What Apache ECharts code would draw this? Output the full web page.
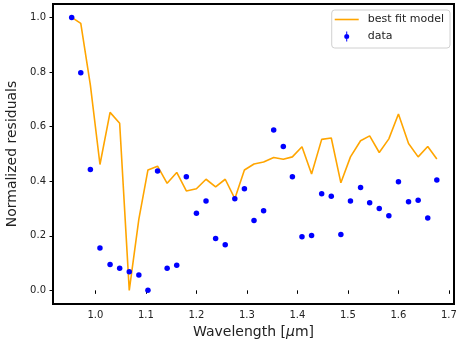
<!DOCTYPE html>
<html>
<head>
<meta charset="utf-8">
<script src="https://cdn.jsdelivr.net/npm/echarts@6/dist/echarts.min.js"></script>
<style>
  html, body { margin: 0; padding: 0; background: #fff; }
  #chart { width: 457px; height: 350px; }
</style>
</head>
<body>
<div id="chart"></div>
<script>
// wavelength grid (um)
var wavelengths = [
  0.953, 0.971, 0.990, 1.009, 1.029, 1.048, 1.067, 1.086, 1.104, 1.123,
  1.142, 1.161, 1.180, 1.200, 1.219, 1.238, 1.257, 1.276, 1.295, 1.314,
  1.333, 1.353, 1.372, 1.390, 1.409, 1.428, 1.448, 1.467, 1.486, 1.505,
  1.525, 1.543, 1.562, 1.581, 1.600, 1.620, 1.639, 1.658, 1.676
]
// measured points
var dataValues = [
  1.000, 0.797, 0.443, 0.155, 0.095, 0.081, 0.068, 0.056, 0.000, 0.437,
  0.081, 0.092, 0.416, 0.282, 0.327, 0.190, 0.167, 0.336, 0.372, 0.256,
  0.292, 0.587, 0.527, 0.416, 0.196, 0.201, 0.354, 0.345, 0.205, 0.327,
  0.377, 0.321, 0.300, 0.273, 0.398, 0.325, 0.330, 0.265, 0.404
]
// model curve
var modelValues = [
  1.000, 0.978, 0.752, 0.461, 0.652, 0.612, 0.000, 0.261, 0.441, 0.455,
  0.392, 0.432, 0.364, 0.372, 0.407, 0.379, 0.407, 0.336, 0.441, 0.463,
  0.470, 0.487, 0.480, 0.489, 0.526, 0.426, 0.553, 0.558, 0.394, 0.489,
  0.548, 0.566, 0.505, 0.555, 0.646, 0.538, 0.489, 0.527, 0.481
]
var xTicks = [1.0, 1.1, 1.2, 1.3, 1.4, 1.5, 1.6, 1.7]
var yTicks = [0.0, 0.2, 0.4, 0.6, 0.8, 1.0]

var font = 'DejaVu Sans'
var modelPts = wavelengths.map(function (w, i) { return [w, modelValues[i]] })
var dataPts = wavelengths.map(function (w, i) { return [w, dataValues[i]] })

var chart = echarts.init(document.getElementById('chart'), null, { renderer: 'canvas' })

var option = {
  animation: false,
  backgroundColor: '#fff',
  grid: {
    left: 53,
    right: 3,
    top: 4,
    bottom: 46,
    outerBoundsMode: 'none',
    show: true,
    borderColor: '#000',
    borderWidth: 2
  },
  legend: {
    orient: 'vertical',
    right: 7,
    top: 10,
    align: 'left',
    padding: [4, 6, 6, 3],
    itemWidth: 24,
    itemHeight: 10,
    itemGap: 6,
    borderColor: '#d0d0d0',
    borderWidth: 1,
    borderRadius: 3,
    backgroundColor: 'rgba(255,255,255,0.8)',
    textStyle: { fontFamily: font, fontSize: 11, color: '#222', padding: [0, 0, 0, 4] },
    data: [
      { name: 'best fit model', icon: 'path://M0,0 L24,0 L24,1.6 L0,1.6 Z' },
      { name: 'data', icon: 'path://M4.4,0 H5.6 V12 H4.4 Z M5,3 A3,3 0 1 1 5,9 A3,3 0 1 1 5,3 Z' }
    ]
  },
  xAxis: {
    type: 'value',
    min: 0.916,
    max: 1.710,
    name: 'Wavelength [{i|μ}m]',
    nameLocation: 'middle',
    nameGap: 21,
    nameTextStyle: {
      fontFamily: font, fontSize: 14, color: '#222',
      rich: { i: { fontFamily: font, fontSize: 14, fontStyle: 'italic', color: '#222' } }
    },
    axisLine: { show: false },
    axisTick: { show: true, length: 3.5, customValues: xTicks, lineStyle: { color: '#000', width: 1 } },
    axisLabel: {
      customValues: xTicks,
      margin: 6,
      fontFamily: font, fontSize: 10, color: '#222',
      formatter: function (v) { return v.toFixed(1) }
    },
    splitLine: { show: false }
  },
  yAxis: {
    type: 'value',
    min: -0.05,
    max: 1.049,
    name: 'Normalized residuals',
    nameLocation: 'middle',
    nameGap: 33,
    nameTextStyle: { fontFamily: font, fontSize: 14, color: '#222' },
    axisLine: { show: false },
    axisTick: { show: true, length: 3.5, customValues: yTicks, lineStyle: { color: '#000', width: 1 } },
    axisLabel: {
      customValues: yTicks,
      margin: 7,
      fontFamily: font, fontSize: 10, color: '#222',
      formatter: function (v) { return v.toFixed(1) }
    },
    splitLine: { show: false }
  },
  series: [
    {
      name: 'best fit model',
      type: 'line',
      data: modelPts,
      symbol: 'none',
      lineStyle: { color: '#ffa500', width: 1.6 },
      itemStyle: { color: '#ffa500' },
      z: 2
    },
    {
      name: 'data',
      type: 'scatter',
      data: dataPts,
      symbol: 'circle',
      symbolSize: 5.5,
      itemStyle: { color: '#0000ff', opacity: 1 },
      z: 3
    }
  ]
}

chart.setOption(option)
</script>
</body>
</html>
